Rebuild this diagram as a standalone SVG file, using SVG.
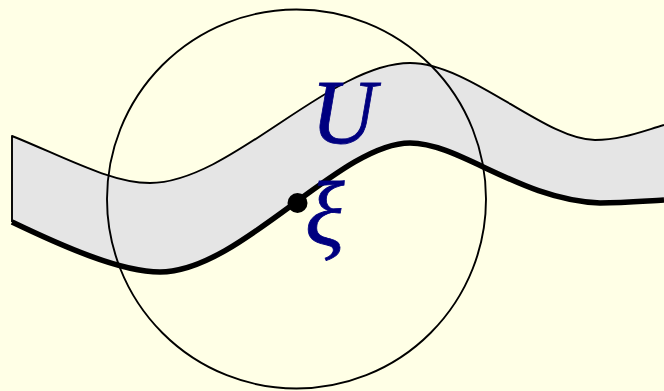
<svg xmlns="http://www.w3.org/2000/svg" width="664" height="391" viewBox="0 0 664 391">
<style>
.thin{fill:none;stroke:#000;stroke-width:1.9;stroke-linejoin:round}
.thick{fill:none;stroke:#000;stroke-width:5.5;stroke-linecap:butt}
.lbl{font-family:"Liberation Serif","DejaVu Serif",serif;font-style:italic;fill:#000080;stroke:#000080;stroke-width:0.8}
</style>
<rect width="664" height="391" fill="#ffffe6"/>
<g id="band">
<path d="M12,136 C60,155 110,183 150,183 C230,183 330,63 410,63 C470,63 545,140 595,140 C620,140 640,132 664,125 L664,200 C645,201 625,203 600,203 C520,200 460,143 410,143 C340,143 240,272 160,272 C120,272 60,245 12,222 Z" fill="#e5e5e5"/>
<path class="thin" d="M12,222 L12,136 C60,155 110,183 150,183 C230,183 330,63 410,63 C470,63 545,140 595,140 C620,140 640,132 664,125"/>
</g>
<g id="circle">
<circle cx="296.5" cy="199" r="189.5" class="thin"/>
</g>
<g id="curve">
<path class="thick" d="M12,222 C60,245 120,272 160,272 C240,272 340,143 410,143 C460,143 520,200 600,203 C625,203 645,201 664,200"/>
</g>
<g id="point">
<circle cx="297.5" cy="203" r="10" fill="#000"/>
</g>
<g id="labels">
<text class="lbl" x="311" y="143" font-size="90">U</text>
<text class="lbl" x="305" y="245" font-size="92">ξ</text>
</g>
</svg>
